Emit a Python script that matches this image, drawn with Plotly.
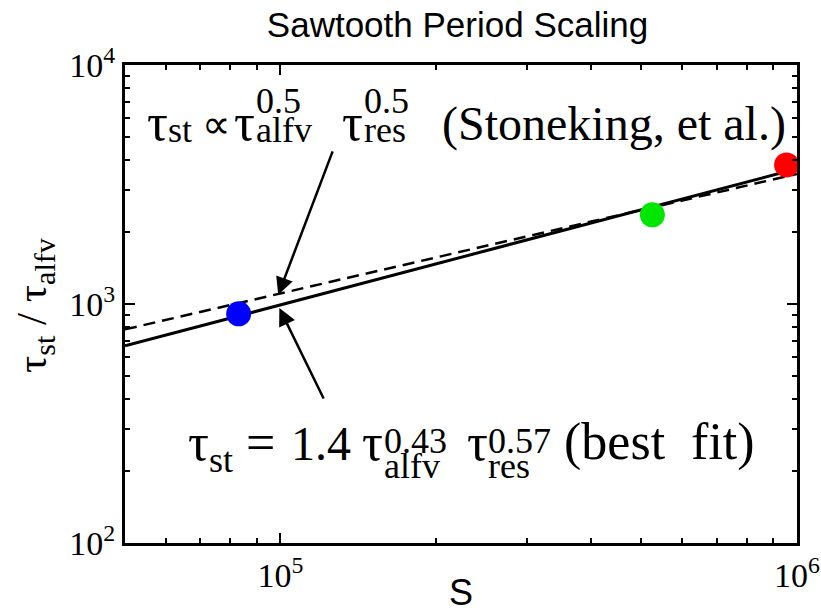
import numpy as np
import plotly.graph_objects as go

# ---------------- data ----------------
S_points = [8.3e4, 5.25e5, 9.55e5]
ratio_points = [910, 2360, 3820]
point_colors = ["#0000ff", "#00e600", "#ff0000"]

fit_S = [5.0e4, 1.0e6]
best_fit = [668, 3680]        # tau_st = 1.4 tau_alfv^0.43 tau_res^0.57
stoneking = [783, 3500]       # tau_st ~ tau_alfv^0.5 tau_res^0.5

arrow_top_tip = (9.9e4, 1092)
arrow_bot_tip = (9.95e4, 962)

x_range = [np.log10(5.0e4), 6.0002]
y_range = [2, 4]

x_major = [1e5, 1e6]
x_major_text = ["10<sup>5</sup>", "10<sup>6</sup>"]
y_major = [1e2, 1e3, 1e4]
y_major_text = ["10<sup>2</sup>", "10<sup>3</sup>", "10<sup>4</sup>"]

x_minor = [m * 10 ** e for e in (4, 5) for m in range(2, 10)]
y_minor = [m * 10 ** e for e in (2, 3) for m in range(2, 10)]

# ---------------- geometry helpers (layout only) ----------------
W, H = 821, 613
PL, PR, PT, PB = 125, 797, 65, 543

def px2paper(px, py):
    return (px - PL) / (PR - PL), (PB - py) / (PB - PT)

SERIF = "Liberation Serif, Times New Roman, serif"
SANS = "Liberation Sans, Arial, sans-serif"

fig = go.Figure()

fig.add_trace(go.Scatter(x=fit_S, y=stoneking, mode="lines",
                         line=dict(color="black", width=2.5, dash="12px,7px"),
                         showlegend=False, hoverinfo="skip"))
fig.add_trace(go.Scatter(x=fit_S, y=best_fit, mode="lines",
                         line=dict(color="black", width=3),
                         showlegend=False, hoverinfo="skip"))
fig.add_trace(go.Scatter(x=S_points, y=ratio_points, mode="markers",
                         marker=dict(color=point_colors, size=25, line=dict(width=0)),
                         showlegend=False, hoverinfo="skip"))

annotations = []

def txt(text, px, baseline, size, family=SERIF, xanchor="left"):
    x, _ = px2paper(px, 0)
    ycenter = baseline - 0.3375 * size
    _, y = px2paper(0, ycenter)
    annotations.append(dict(text=text, x=x, y=y, xref="paper", yref="paper",
                            xanchor=xanchor, yanchor="middle", showarrow=False,
                            borderpad=0,
                            font=dict(family=family, size=size, color="black")))

BIG, SMALL = 52, 36
# top formula
txt("τ", 146, 140, BIG)
txt("st", 167, 142, SMALL)
txt("∝", 201, 138, 40)
txt("τ", 233, 140, BIG)
txt("0.5", 255, 113, SMALL)
txt("alfv", 255, 142, SMALL)
txt("τ", 341, 140, BIG)
txt("0.5", 363, 113, SMALL)
txt("res", 363, 142, SMALL)
txt("(Stoneking, et al.)", 441, 140, 48)
# bottom formula
txt("τ", 187, 460, BIG)
txt("st", 208, 472, SMALL)
txt("=", 245, 460, BIG)
txt("1.4", 290, 460, 48)
txt("τ", 361, 460, BIG)
txt("0.43", 383, 453, SMALL)
txt("alfv", 383, 478, SMALL)
txt("τ", 466, 460, BIG)
txt("0.57", 487, 453, SMALL)
txt("res", 487, 478, SMALL)
txt("(best\u00a0 fit)", 563, 460, BIG)

# x-axis title
txt("S", 461, 605, 36, family=SANS, xanchor="center")

# y-axis title (rotated)
yx, yy = px2paper(35, 305)
annotations.append(dict(text="τ<sub>st</sub> / τ<sub>alfv</sub>", x=yx, y=yy,
                        xref="paper", yref="paper", xanchor="center", yanchor="middle",
                        textangle=-90, showarrow=False, borderpad=0,
                        font=dict(family=SERIF, size=43, color="black")))

# arrows
for (tip, ax, ay) in [(arrow_top_tip, 55, -145), (arrow_bot_tip, 45, 92)]:
    annotations.append(dict(x=np.log10(tip[0]), y=np.log10(tip[1]), xref="x", yref="y",
                            ax=ax, ay=ay, showarrow=True, arrowhead=2, arrowsize=1.4,
                            arrowwidth=2.5, arrowcolor="black", standoff=0, text=""))

def axis_common(major_vals, major_text, minor_vals):
    return dict(type="log", showline=True, linecolor="black", linewidth=3,
                mirror="allticks", ticks="inside", ticklen=10, tickwidth=2,
                tickcolor="black", showgrid=False, zeroline=False,
                tickmode="array", tickvals=major_vals, ticktext=major_text,
                automargin=False,
                tickfont=dict(family=SERIF, size=34, color="black"),
                minor=dict(ticks="inside", ticklen=5, tickwidth=2,
                           tickcolor="black", tickmode="array",
                           tickvals=minor_vals, showgrid=False))

fig.update_layout(
    width=W, height=H,
    margin=dict(l=PL, r=W - PR, t=PT, b=H - PB, pad=0),
    paper_bgcolor="white", plot_bgcolor="white",
    title=dict(text="Sawtooth Period Scaling", x=(262 + 653) / 2 / W, xanchor="center",
               xref="container", y=1 - 25 / H, yanchor="middle", yref="container",
               font=dict(family=SANS, size=35, color="black")),
    xaxis=dict(range=x_range, **axis_common(x_major, x_major_text, x_minor)),
    yaxis=dict(range=y_range, **axis_common(y_major, y_major_text, y_minor)),
    annotations=annotations,
)

fig.write_html("out.html")
